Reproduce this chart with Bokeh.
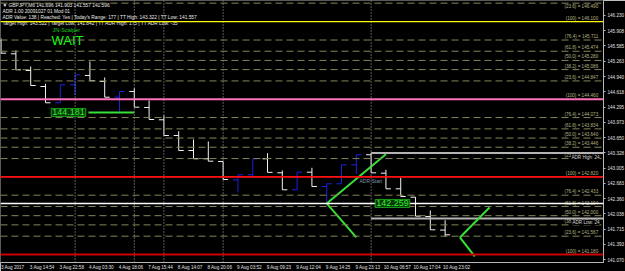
from bokeh.plotting import figure
from bokeh.models import Range1d, FixedTicker, Label, Span, PrintfTickFormatter
from bokeh.embed import file_html
from bokeh.resources import INLINE
from bokeh.core.properties import value

# ---------------- data ----------------
bar_open = [145.700, 145.420, 145.067, 144.729, 144.385, 144.765, 144.962, 144.835, 144.503, 144.624,
            144.286, 144.026, 143.694, 143.377, 143.202, 143.145, 142.758, 142.864, 143.202, 142.906,
            142.547, 142.919, 142.617, 142.674, 143.075, 143.287, 142.898, 142.568, 142.391, 141.983,
            141.696]
bar_high = [145.745, 145.490, 145.152, 144.786, 144.765, 144.977, 145.257, 144.920, 144.624, 144.693,
            144.434, 144.117, 143.785, 143.610, 143.568, 143.145, 142.864, 143.202, 143.320, 142.955,
            142.919, 143.012, 142.674, 143.075, 143.287, 143.322, 142.970, 142.801, 142.391, 142.110,
            141.903]
bar_low = [145.425, 145.082, 144.750, 144.385, 144.385, 144.554, 144.850, 144.503, 144.201, 144.292,
           144.032, 143.694, 143.377, 143.202, 143.151, 142.765, 142.490, 142.813, 142.915, 142.547,
           142.547, 142.617, 142.286, 142.674, 142.885, 142.906, 142.568, 142.406, 141.990, 141.702,
           141.557]
bar_close = [145.433, 145.082, 144.750, 144.385, 144.765, 144.977, 144.850, 144.503, 144.624, 144.292,
             144.032, 143.694, 143.377, 143.202, 143.151, 142.765, 142.864, 143.202, 142.915, 142.547,
             142.919, 142.617, 142.674, 143.075, 143.287, 142.906, 142.568, 142.406, 141.990, 141.702,
             141.596]

time_label_bars = [0, 2, 4, 6, 8, 10, 12, 14, 16, 18, 20, 22, 24, 26, 28, 30]
time_labels = ["3 Aug 2017", "3 Aug 14:54", "3 Aug 22:58", "4 Aug 03:30", "4 Aug 18:06",
               "7 Aug 15:44", "8 Aug 14:07", "8 Aug 20:06", "9 Aug 03:52", "9 Aug 09:23",
               "9 Aug 12:04", "9 Aug 14:25", "9 Aug 23:13", "10 Aug 06:57", "10 Aug 17:04",
               "10 Aug 23:02"]
price_tick_labels = ["146.230", "145.908", "145.585", "145.263", "144.940", "144.618", "144.295",
                     "143.973", "143.650", "143.328", "143.005", "142.683", "142.360", "142.038",
                     "141.715", "141.393", "141.070"]

day_start_bars = [5, 9, 11, 15, 25]

fib_names = ["(23.6)", "(100)", "(76.4)", "(61.8)", "(50.0)", "(38.2)", "(23.6)",
             "(100)", "(76.4)", "(61.8)", "(50.0)", "(38.2)", "(23.6)",
             "(100)", "(76.4)", "(61.8)", "(50.0)", "(38.2)", "(23.6)", "(100)"]
fib_prices = [146.490, 146.100, 145.711, 145.474, 145.280, 145.086, 144.847,
              144.460, 144.073, 143.834, 143.640, 143.446, 143.207,
              142.820, 142.433, 142.194, 142.000, 141.806, 141.567, 141.180]

adr_start_bar = 25
adr_high = 143.322
adr_low = 141.942
adr_labels = ["ADR High: 24", "ADR Low: 24"]

hline_price = 142.259
bid_price = 141.596
entry_price = 144.181
entry_bars = [5.9, 9.0]

cone_x0 = [22, 22, 31, 31]
cone_y0 = [142.259, 142.259, 141.540, 141.540]
cone_x1 = [26, 24, 33, 32]
cone_y1 = [143.300, 141.540, 142.173, 141.138]

header_lines = [
    "\u25bc GBPJPY,M6  141.696 141.903 141.557 141.596",
    "ADR 1.00 20091027 01 Mod 01",
    "ADR Value: 138  |  Reached: Yes  |  Today's Range: 177  |  TT High: 143.322  |  TT Low: 141.557",
    "Target High: 143.522  |  Target Low: 141.842  |  TT ADR High: 175  |  TT ADR Low: -35",
]

# ---------------- layout ----------------
FW, FH = 603, 262
X0, X1 = -0.04, 40.70
Y_BOT, Y_TOP = 141.011, 146.546
FONT = "Liberation Sans"


def px_x(px):
    return X0 + px * (X1 - X0) / FW


def px_y(py):
    return Y_TOP - py * (Y_TOP - Y_BOT) / FH


p = figure(frame_width=FW, frame_height=FH, x_range=Range1d(X0, X1), y_range=Range1d(Y_BOT, Y_TOP),
           output_backend="svg", toolbar_location=None, y_axis_location="right")
p.min_border_left = 0
p.min_border_right = 0
p.min_border_top = 0
p.min_border_bottom = 0
p.background_fill_color = "black"
p.border_fill_color = "black"
p.outline_line_color = "#5a5a5a"
p.xgrid.visible = False
p.ygrid.visible = False

# axes
p.yaxis.ticker = FixedTicker(ticks=[float(s) for s in price_tick_labels])
p.yaxis.formatter = PrintfTickFormatter(format="%.3f")
p.yaxis.major_label_text_font = FONT
p.yaxis.major_label_text_font_size = "4.6px"
p.yaxis.major_label_text_color = "#e0e0e0"
p.yaxis.axis_line_color = "#b8b8b8"
p.yaxis.major_tick_line_color = "#b8b8b8"
p.yaxis.major_tick_out = 2
p.yaxis.major_tick_in = 0
p.yaxis.minor_tick_line_color = None
p.yaxis.major_label_standoff = 2

xticks = [b + 0.78 for b in time_label_bars]
p.xaxis.ticker = FixedTicker(ticks=xticks)
p.xaxis.major_label_overrides = {t: s for t, s in zip(xticks, time_labels)}
p.xaxis.major_label_text_font = FONT
p.xaxis.major_label_text_font_size = "4.6px"
p.xaxis.major_label_text_color = "#e0e0e0"
p.xaxis.axis_line_color = "#b8b8b8"
p.xaxis.major_tick_line_color = None
p.xaxis.major_tick_out = 0
p.xaxis.major_tick_in = 0
p.xaxis.minor_tick_line_color = None
p.xaxis.major_label_standoff = 2

# day separators
for b in day_start_bars:
    p.add_layout(Span(location=b, dimension="height", line_color="#b4b4b4", line_dash="1 2", line_width=1))

# bars
UP, DOWN = "#1a22e0", "#f2f2f2"
TICK = 0.34
idx = list(range(len(bar_open)))
cols = [UP if c > o else DOWN for o, c in zip(bar_open, bar_close)]
p.segment(x0=idx, y0=bar_low, x1=idx, y1=bar_high, line_color=cols, line_width=1)
p.segment(x0=[i - TICK for i in idx], y0=bar_open, x1=idx, y1=bar_open, line_color=cols, line_width=1)
p.segment(x0=idx, y0=bar_close, x1=[i + TICK for i in idx], y1=bar_close, line_color=cols, line_width=1)

# fib levels
main_colors = ["#ffff00", "#ff70b8", "#ff1010", "#cc0000"]
main_widths = [1.3, 2, 1.6, 2]
k = 0
for name, pr in zip(fib_names, fib_prices):
    if name == "(100)":
        p.add_layout(Span(location=pr, dimension="width", line_color=main_colors[k], line_width=main_widths[k]))
        k += 1
    else:
        p.add_layout(Span(location=pr, dimension="width", line_color="#858558", line_dash="7 4", line_width=1))

near_top = px_y(7)
fib_text = [f"{n} =  {v:.3f}" for n, v in zip(fib_names, fib_prices)]
lab_above = [i for i, v in enumerate(fib_prices) if v <= near_top]
lab_below = [i for i, v in enumerate(fib_prices) if v > near_top]
p.text(x=[px_x(599)] * len(lab_above), y=[fib_prices[i] for i in lab_above], y_offset=-1,
       text=[fib_text[i] for i in lab_above],
       text_font=value(FONT), text_font_size="4.6px", text_color="#b4b482",
       text_align="right", text_baseline="bottom")
p.text(x=[px_x(599)] * len(lab_below), y=[fib_prices[i] for i in lab_below], y_offset=1,
       text=[fib_text[i] for i in lab_below],
       text_font=value(FONT), text_font_size="4.6px", text_color="#b4b482",
       text_align="right", text_baseline="top")

# ADR range lines
p.segment(x0=[adr_start_bar, adr_start_bar], y0=[adr_high, adr_low], x1=[X1, X1], y1=[adr_high, adr_low],
          line_color="#b4b4b4", line_width=2)
for txt, pr in zip(adr_labels, [adr_high, adr_low]):
    p.add_layout(Label(x=px_x(599), y=pr, y_offset=-1.5, text=txt, text_align="right", text_baseline="top",
                       text_font=FONT, text_font_size="4.6px", text_color="#d8d8d8",
                       background_fill_color="black"))
p.text(x=[px_x(359)], y=[px_y(180)], text=["ADR Start"], text_font=value(FONT), text_font_size="5px",
       text_color="#8494ac", text_baseline="middle")

# white horizontal line
p.add_layout(Span(location=hline_price, dimension="width", line_color="white", line_width=1.5))

# green objects
p.segment(x0=cone_x0, y0=cone_y0, x1=cone_x1, y1=cone_y1, line_color="#38e038", line_width=2)
p.segment(x0=[entry_bars[0]], y0=[entry_price], x1=[entry_bars[1]], y1=[entry_price],
          line_color="#38e038", line_width=2)
for xc, pr in [((px_x(50) + px_x(86)) / 2, entry_price), ((px_x(375) + px_x(409)) / 2, hline_price)]:
    p.add_layout(Label(x=xc, y=pr, text=f"{pr:.3f}", text_align="center", text_baseline="middle",
                       text_font=FONT, text_font_size="9px", text_color="#30f030",
                       background_fill_color="#083808", border_line_color="#18a018",
                       padding=1))

# axis price boxes
for pr in [hline_price, bid_price]:
    p.add_layout(Label(x=X1, y=pr, x_offset=1, text=f"{pr:.3f}", text_align="left", text_baseline="middle",
                       text_font=FONT, text_font_size="4.8px", text_color="black",
                       background_fill_color="white"))

# header texts
p.text(x=[px_x(2)] * 4, y=[px_y(5), px_y(10.7), px_y(16.7), px_y(22.7)], text=header_lines,
       text_font=value(FONT), text_font_size="4.8px", text_color="#ececec", text_baseline="middle")
p.text(x=[px_x(52)], y=[px_y(29)], text=["JN-Scalper"], text_font=value(FONT), text_font_size="5.6px",
       text_color="#10d010", text_baseline="middle")
p.text(x=[px_x(51)], y=[px_y(39.5)], text=["WAIT"], text_font=value(FONT), text_font_size="13px",
       text_color="#10ff10", text_baseline="middle")

open("out.html", "w").write(file_html(p, INLINE))
